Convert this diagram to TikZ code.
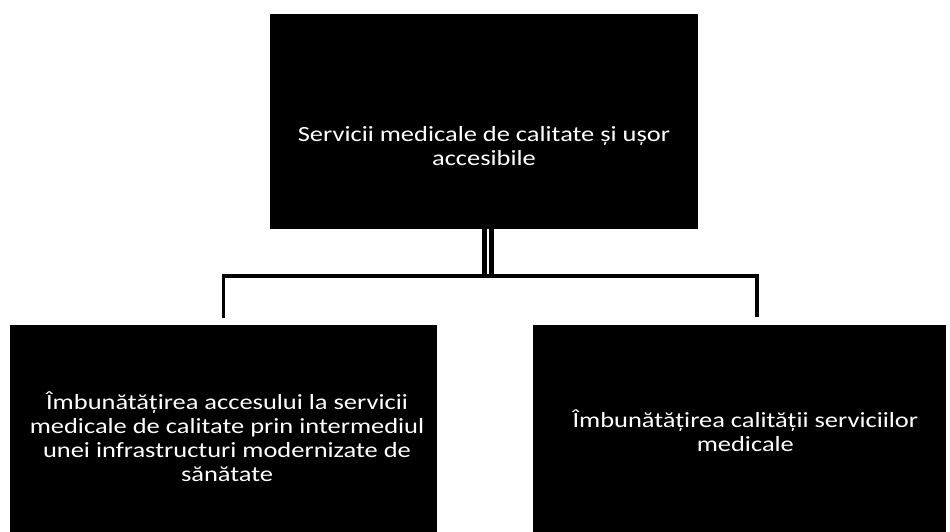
\documentclass[tikz,border=0pt]{standalone}
\usepackage{fontspec}
\setmainfont{Carlito}[FakeStretch=1.22]
\usetikzlibrary{positioning,calc}
\definecolor{ink}{RGB}{0,0,0}
\definecolor{paper}{RGB}{255,255,255}
\tikzset{
  panel/.style={fill=ink,inner sep=0pt,minimum width=#1},
  caption/.style={text=paper,align=center,inner sep=0pt,
    font=\fontsize{18.5}{20.5}\selectfont},
  link/.style={draw=ink,line width=3.4pt,line join=miter},
  trunk/.style={draw=ink,line width=4.2pt,double=paper,double distance=2.4pt},
}
\begin{document}
\begin{tikzpicture}[x=0.03cm,y=-0.03cm]
  \useasboundingbox (0,0) rectangle (950,532);
  % boxes
  \node[panel=12.84cm,minimum height=6.45cm] (goal) at (484,121.5) {};
  \node[panel=12.81cm,minimum height=6.21cm] (lft) at (223.5,428.5) {};
  \node[panel=12.39cm,minimum height=6.21cm] (rgt) at (739.5,428.5) {};
  \node[caption] (goaltxt) at ([yshift=-21pt]goal.center)
    {Servicii medicale de calitate și ușor\\accesibile};
  \node[caption] (lfttxt) at ([xshift=3pt,yshift=-7pt]lft.center)
    {Îmbunătățirea accesului la servicii\\medicale de calitate prin intermediul\\unei infrastructuri modernizate de\\sănătate};
  \node[caption] (rgttxt) at ([xshift=5pt,yshift=-2pt]rgt.center)
    {Îmbunătățirea calității serviciilor\\medicale};
  % connectors
  \coordinate (hub) at (488,276);
  \draw[trunk] (goal.south -| hub) -- (hub);
  \draw[link] ([yshift=6pt]lft.north) |- (hub) -| ([xshift=15pt,yshift=7pt]rgt.north);
\end{tikzpicture}
\end{document}
